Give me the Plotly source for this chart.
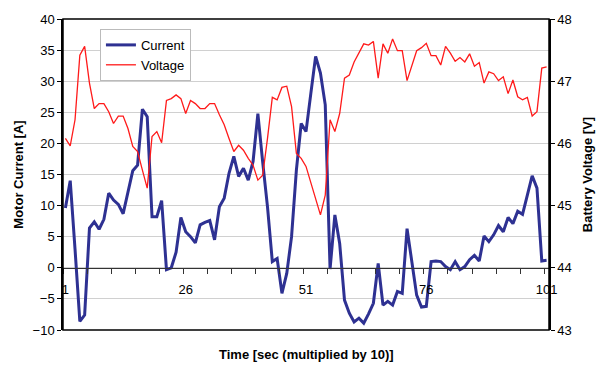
import plotly.graph_objects as go

time_idx = list(range(1, 102))

current = [
    9.6, 14.0, 3.0, -8.6, -7.6, 6.4, 7.4, 6.2, 7.8, 12.0,
    10.9, 10.2, 8.7, 12.1, 15.6, 16.5, 25.5, 24.3, 8.2, 8.2,
    10.8, -0.3, 0.0, 2.5, 8.1, 5.8, 5.0, 4.0, 6.9, 7.3,
    7.6, 4.5, 9.8, 11.2, 15.2, 17.9, 14.7, 16.0, 14.1, 17.1,
    24.8, 17.0, 9.8, 1.0, 1.5, -4.1, -0.9, 5.0, 15.7, 23.2,
    21.9, 28.0, 34.0, 31.3, 26.2, -0.2, 8.5, 3.9, -5.2, -7.3,
    -8.7, -8.1, -8.9, -7.4, -5.7, 0.7, -6.0, -5.4, -6.0, -3.8,
    -4.1, 6.3, 0.8, -4.4, -6.3, -6.2, 1.0, 1.1, 1.0, 0.2,
    -0.3, 1.0, -0.3, 0.2, 1.3, 2.0, 1.1, 5.1, 4.2, 5.3,
    6.8, 5.8, 8.1, 7.1, 9.1, 8.6, 11.7, 14.8, 12.8, 1.1,
    1.2,
]

voltage = [
    46.08, 45.96, 46.38, 47.42, 47.56, 46.97, 46.56, 46.64, 46.64, 46.51,
    46.32, 46.44, 46.44, 46.24, 45.95, 45.87, 45.57, 45.28, 46.11, 46.19,
    46.01, 46.69, 46.72, 46.78, 46.72, 46.48, 46.69, 46.64, 46.56, 46.56,
    46.64, 46.64, 46.46, 46.30, 46.08, 45.87, 45.97, 45.89, 45.76, 45.65,
    45.41, 45.49, 46.08, 46.74, 46.70, 46.90, 46.92, 46.59, 45.84, 45.76,
    45.63, 45.36, 45.12, 44.85, 45.17, 46.38, 46.19, 46.48, 47.05, 47.10,
    47.31, 47.45, 47.60, 47.58, 47.64, 47.05, 47.60, 47.45, 47.68, 47.49,
    47.49, 47.01, 47.26, 47.49, 47.54, 47.61, 47.41, 47.41, 47.26, 47.56,
    47.45, 47.32, 47.38, 47.31, 47.44, 47.24, 47.30, 46.97, 47.15, 47.12,
    47.01, 47.07, 46.80, 47.02, 46.75, 46.70, 46.74, 46.44, 46.51, 47.21,
    47.23,
]

x_label_vals = [1, 26, 51, 76, 101]

font_family = "Liberation Sans, Arial, sans-serif"

fig = go.Figure()
fig.add_trace(go.Scatter(
    x=time_idx, y=current, name="Current", mode="lines",
    line=dict(color="#2E3192", width=3), yaxis="y",
))
fig.add_trace(go.Scatter(
    x=time_idx, y=voltage, name="Voltage", mode="lines",
    line=dict(color="#FF1A1A", width=1.3), yaxis="y2",
))

fig.update_layout(
    width=605, height=370,
    margin=dict(l=63, r=52, t=19, b=40),
    paper_bgcolor="white", plot_bgcolor="white",
    font=dict(family=font_family, size=13, color="black"),
    showlegend=True,
    legend=dict(
        x=0.076, y=0.968, xanchor="left", yanchor="top",
        bgcolor="white", bordercolor="#BBBBBB", borderwidth=1,
        font=dict(size=13), tracegroupgap=0, itemwidth=30,
    ),
    xaxis=dict(
        range=[0.5, 101.5], anchor="free", position=0.2,
        tickmode="array", tickvals=x_label_vals,
        ticks="", showgrid=False, zeroline=False,
        showline=True, linecolor="#333333", linewidth=1,
        ticklabelstandoff=10,
        minor=dict(tick0=0.5, dtick=5, ticks="outside", ticklen=5,
                   tickcolor="#333333", showgrid=False),
    ),
    yaxis=dict(
        range=[-10, 40], dtick=5, showgrid=True, gridcolor="#D0D0D0",
        gridwidth=1, zeroline=False, showline=True, linecolor="black",
        linewidth=1.5, ticks="outside", ticklen=4, tickcolor="black",
        title=dict(text="<b>Motor Current [A]</b>", standoff=6,
                   font=dict(size=13)),
    ),
    yaxis2=dict(
        range=[43, 48], dtick=1, overlaying="y", side="right",
        showgrid=False, zeroline=False, showline=True, linecolor="black",
        linewidth=1.5, ticks="outside", ticklen=4, tickcolor="black",
        title=dict(text="<b>Battery Voltage [V]</b>", standoff=12,
                   font=dict(size=13)),
    ),
    shapes=[dict(type="rect", xref="paper", yref="paper", x0=0, x1=1,
                 y0=0, y1=1, line=dict(color="black", width=1.5),
                 fillcolor="rgba(0,0,0,0)", layer="above")],
    annotations=[dict(text="<b>Time [sec (multiplied by 10)]</b>",
                      xref="paper", yref="paper", x=0.5, y=-0.08,
                      xanchor="center", yanchor="middle", showarrow=False,
                      font=dict(size=13))],
)

fig.write_html("out.html")
